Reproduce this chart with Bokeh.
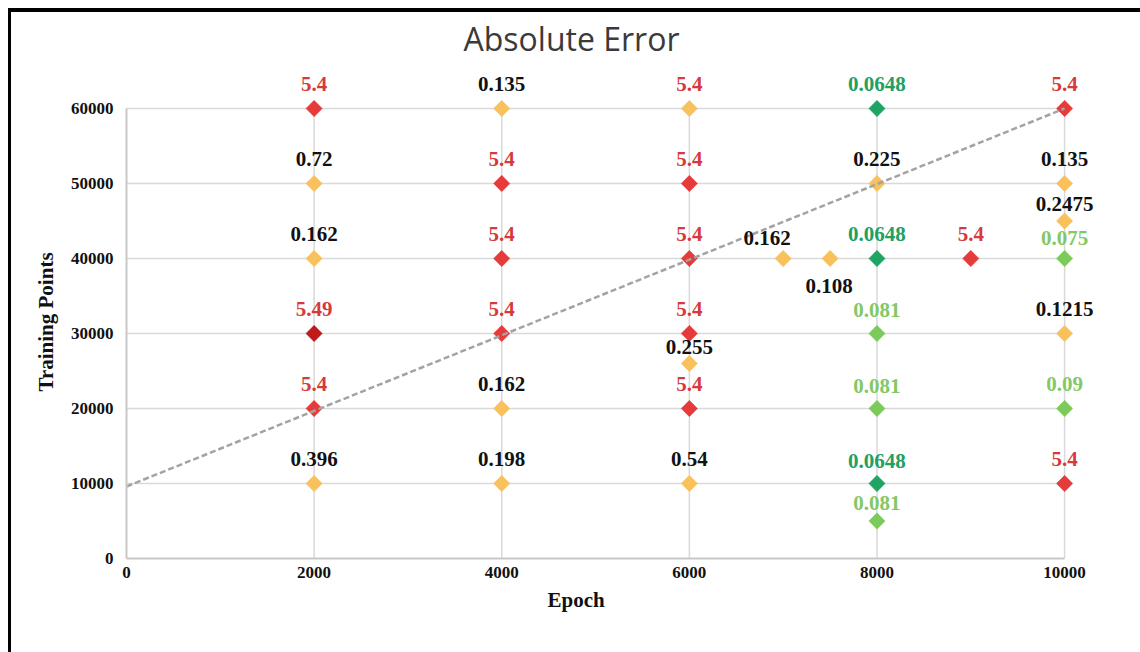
import math
from bokeh.plotting import figure
from bokeh.layouts import column
from bokeh.models import ColumnDataSource, Range1d, FixedTicker, Title
from bokeh.core.properties import value
from bokeh.embed import file_html
from bokeh.resources import INLINE

# ---------------- data ----------------
epochs = [2000, 2000, 2000, 2000, 2000, 2000,
          4000, 4000, 4000, 4000, 4000, 4000,
          6000, 6000, 6000, 6000, 6000, 6000, 6000,
          7000, 7500,
          8000, 8000, 8000, 8000, 8000, 8000, 8000,
          9000,
          10000, 10000, 10000, 10000, 10000, 10000, 10000]
training_points = [60000, 50000, 40000, 30000, 20000, 10000,
                   60000, 50000, 40000, 30000, 20000, 10000,
                   60000, 50000, 40000, 30000, 26000, 20000, 10000,
                   40000, 40000,
                   60000, 50000, 40000, 30000, 20000, 10000, 5000,
                   40000,
                   60000, 50000, 45000, 40000, 30000, 20000, 10000]
abs_error = ["5.4", "0.72", "0.162", "5.49", "5.4", "0.396",
             "0.135", "5.4", "5.4", "5.4", "0.162", "0.198",
             "5.4", "5.4", "5.4", "5.4", "0.255", "5.4", "0.54",
             "0.162", "0.108",
             "0.0648", "0.225", "0.0648", "0.081", "0.081", "0.0648", "0.081",
             "5.4",
             "5.4", "0.135", "0.2475", "0.075", "0.1215", "0.09", "5.4"]
marker_class = ["red", "orange", "orange", "darkred", "red", "orange",
                "orange", "red", "red", "red", "orange", "orange",
                "orange", "red", "red", "red", "orange", "red", "orange",
                "orange", "orange",
                "dgreen", "orange", "dgreen", "lgreen", "lgreen", "dgreen", "lgreen",
                "red",
                "red", "orange", "orange", "lgreen", "orange", "lgreen", "red"]
label_class = ["red", "black", "black", "red", "red", "black",
               "black", "red", "red", "red", "black", "black",
               "red", "red", "red", "red", "black", "red", "black",
               "black", "black",
               "dgreen", "black", "dgreen", "lgreen", "lgreen", "dgreen", "lgreen",
               "red",
               "red", "black", "black", "lgreen", "black", "lgreen", "red"]

trend_epoch = [0, 10000]
trend_points = [9600, 60000]

x_ticks = [0, 2000, 4000, 6000, 8000, 10000]
y_ticks = [0, 10000, 20000, 30000, 40000, 50000, 60000]

# ---------------- styles ----------------
marker_colors = {"red": "#e53b3b", "darkred": "#c01a1a", "orange": "#f8c15c",
                 "dgreen": "#1fa463", "lgreen": "#7ccb5a"}
label_colors = {"red": "#d63a3a", "black": "#111111", "dgreen": "#21a062",
                "lgreen": "#84c866"}
default_offset = (0, -25)
label_offsets = {
    (7000, 40000): (-16, -21),
    (7500, 40000): (-1, 27),
    (6000, 26000): (0, -17),
    (8000, 5000): (0, -18),
    (10000, 45000): (0, -17),
    (10000, 40000): (0, -21),
    (8000, 10000): (0, -23),
    (8000, 20000): (0, -23),
    (8000, 30000): (0, -24),
}

dx, dy = [], []
for e, t in zip(epochs, training_points):
    ox, oy = label_offsets.get((e, t), default_offset)
    dx.append(ox)
    dy.append(oy)

src = ColumnDataSource(dict(
    x=epochs, y=training_points, txt=abs_error,
    mc=[marker_colors[c] for c in marker_class],
    lc=[label_colors[c] for c in label_class],
    dx=dx, dy=dy,
))

serif = value("Liberation Serif")

# canvas starts at (11, 12) because of the black frame lines
p = figure(width=1129, height=640, output_backend="svg", toolbar_location=None,
           x_range=Range1d(0, 10500), y_range=Range1d(0, 66800),
           frame_width=985, frame_height=501,
           min_border_left=115, min_border_right=29, min_border_top=45, min_border_bottom=94)
p.background_fill_color = "white"
p.border_fill_color = "white"
p.outline_line_color = None
p.xgrid.visible = False
p.ygrid.visible = False

# title
p.title = Title(text="Absolute Error", align="left", offset=337,
                text_font="Open Sans", text_font_size="32px",
                text_font_style="normal", text_color="#3a3a3a", standoff=-4)

# manual grid lines (limited to data area)
p.segment(x0=[x for x in x_ticks if x > 0], y0=0,
          x1=[x for x in x_ticks if x > 0], y1=max(y_ticks),
          line_color="#d9d9d9", line_width=1.5)
p.segment(x0=0, y0=[y for y in y_ticks if y > 0],
          x1=max(x_ticks), y1=[y for y in y_ticks if y > 0],
          line_color="#d9d9d9", line_width=1.5)

# axes
for ax in (p.xaxis[0], p.yaxis[0]):
    ax.major_tick_line_color = None
    ax.minor_tick_line_color = None
    ax.major_tick_out = 0
    ax.major_tick_in = 0
    ax.minor_tick_out = 0
    ax.axis_line_color = "#c8c8c8"
    ax.axis_line_width = 2
    ax.major_label_text_font = "Liberation Serif"
    ax.major_label_text_font_style = "bold"
    ax.major_label_text_font_size = "17px"
    ax.major_label_text_color = "#111111"

p.xaxis[0].ticker = FixedTicker(ticks=x_ticks)
p.yaxis[0].ticker = FixedTicker(ticks=y_ticks)
p.xaxis[0].bounds = (0, max(x_ticks))
p.yaxis[0].bounds = (0, max(y_ticks))
p.xaxis[0].major_label_standoff = 8
p.yaxis[0].major_label_standoff = 13

# axis titles as side titles (so they can be positioned off-centre)
p.add_layout(Title(text="Epoch", align="left", offset=421,
                   text_font="Liberation Serif", text_font_style="bold",
                   text_font_size="21px", text_color="#111111", standoff=11), "below")
p.add_layout(Title(text="Training Points", align="left", offset=167,
                   text_font="Liberation Serif", text_font_style="bold",
                   text_font_size="21px", text_color="#111111", standoff=19), "left")

# markers
p.scatter("x", "y", source=src, marker="square", angle=math.pi / 4, size=11.5,
          fill_color="mc", line_color="mc", line_width=0.5)

# trend line (on top of markers)
p.line(trend_epoch, trend_points, line_color="#a3a3a3", line_width=2.5, line_dash="6 3")

# labels
p.text("x", "y", text="txt", source=src, x_offset="dx", y_offset="dy",
       text_align="center", text_baseline="middle",
       text_font=serif, text_font_style="bold", text_font_size="21px",
       text_color="lc")

page = column(p, styles={"margin-left": "8px", "margin-top": "8px",
                         "border-top": "4px solid black",
                         "border-left": "3px solid black"})

open("out.html", "w").write(file_html(page, INLINE))
